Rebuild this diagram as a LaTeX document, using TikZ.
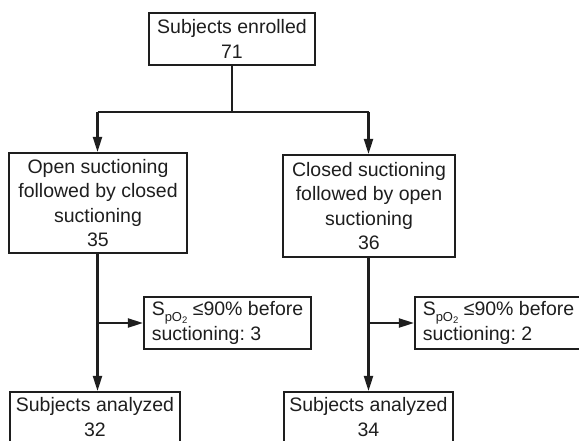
\documentclass[tikz,border=0pt]{standalone}
\usepackage{fontspec}
\setmainfont{Liberation Sans}
\usetikzlibrary{arrows.meta}
\definecolor{ink}{HTML}{1E1E1E}
\newcommand{\spo}{S\raisebox{-5.5pt}{\fontsize{13}{13}\selectfont pO\raisebox{-2.5pt}{\fontsize{9.5}{9.5}\selectfont 2}}}
\begin{document}
\begin{tikzpicture}[x=1pt,y=-1pt,
  box/.style={draw=ink, line width=2.1pt, text=ink, align=center, inner sep=0pt,
    font=\fontsize{19.5}{24.5}\selectfont\frenchspacing},
  sidebox/.style={box, align=left},
  conn/.style={draw=ink, line width=2.1pt},
  arr/.style={conn, -{Triangle[length=15pt,width=9pt]}}]
\useasboundingbox (0,0) rectangle (579,440);
\node[box, minimum width=166pt, minimum height=52pt] (enr) at (232,39) {Subjects enrolled\\71};
\node[box, minimum width=178pt, minimum height=100pt] (lmid) at (98,203) {Open suctioning\\followed by closed\\suctioning\\35};
\node[box, minimum width=172pt, minimum height=102pt] (rmid) at (369,206) {Closed suctioning\\followed by open\\suctioning\\36};
\node[sidebox, minimum width=167pt, minimum height=52pt] (lside) at (227.5,323) {\spo{} ≤90\% before\\suctioning: 3};
\node[sidebox, minimum width=167pt, minimum height=52pt] (rside) at (498.5,323) {\spo{} ≤90\% before\\suctioning: 2};
\node[box, minimum width=170pt, minimum height=50pt] (lan) at (95,417) {Subjects analyzed\\32};
\node[box, minimum width=169pt, minimum height=50pt] (ran) at (368.5,417) {Subjects analyzed\\34};
\coordinate (j) at (232,112);
\coordinate (jl) at (97.5,112);
\coordinate (jr) at (368.5,112);
\coordinate (bl) at (97.5,323);
\coordinate (br) at (368.5,323);
\draw[conn] (enr.south) -- (j);
\draw[conn] (jl) -- (jr);
\draw[arr] (jl) -- (jl |- lmid.north);
\draw[arr] (jr) -- (jr |- rmid.north);
\draw[arr] (jl |- lmid.south) -- (jl |- lan.north);
\draw[arr] (jr |- rmid.south) -- (jr |- ran.north);
\draw[arr] (bl) -- (lside.west);
\draw[arr] (br) -- (rside.west);
\end{tikzpicture}
\end{document}
